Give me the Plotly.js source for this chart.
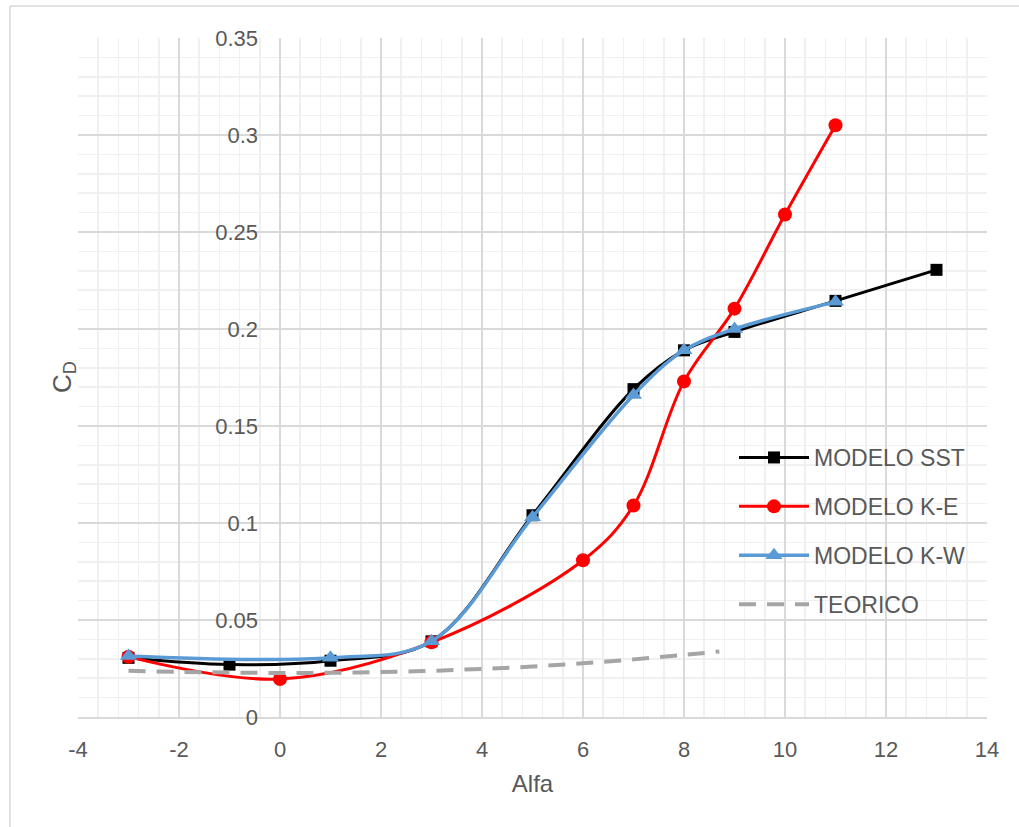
<!DOCTYPE html>
<html>
<head>
<meta charset="utf-8">
<script src="https://cdn.plot.ly/plotly-3.0.1.min.js"></script>
<style>html,body{margin:0;padding:0;background:#fff;}#chart{width:1019px;height:827px;}</style>
</head>
<body>
<div id="chart"></div>
<script>
// Data
const sstX = [-3, -1, 1, 3, 5, 7, 8, 9, 11, 13];
const sstY = [0.0305, 0.027, 0.029, 0.039, 0.104, 0.169, 0.189, 0.1985, 0.2145, 0.2305];

const keX = [-3, 0, 3, 6, 7, 8, 9, 10, 11];
const keY = [0.031, 0.0196, 0.0385, 0.0808, 0.109, 0.173, 0.2105, 0.259, 0.305];

const kwX = [-3, 1, 3, 5, 7, 8, 9, 11];
const kwY = [0.0315, 0.0305, 0.039, 0.103, 0.166, 0.189, 0.200, 0.214];

const teoX = [-3, -2, -1, 0, 1, 2, 3, 4, 5, 6, 7, 8, 8.7];
const teoY = [0.0238, 0.0233, 0.0229, 0.0227, 0.0228, 0.0232, 0.0238, 0.0248, 0.026, 0.0277, 0.0297, 0.032, 0.0338];

const seriesNames = ["MODELO SST", "MODELO K-E", "MODELO K-W", "TEORICO"];
const xTickVals = [-4, -2, 0, 2, 4, 6, 8, 10, 12, 14];
const xTickText = ["-4", "-2", "0", "2", "4", "6", "8", "10", "12", "14"];
const yTickVals = [0, 0.05, 0.1, 0.15, 0.2, 0.25, 0.3, 0.35];
const yTickText = ["0", "0.05", "0.1", "0.15", "0.2", "0.25", "0.3", "0.35"];
const xTitle = "Alfa";
const yTitle = "C<sub>D</sub>";

// minor grid positions (5 per major interval), skipping the major ones
const xMinor = [];
for (let i = 0; i <= 45; i++) { if (i % 5 !== 0) xMinor.push(-4 + i * 0.4); }
const yMinor = [];
for (let i = 0; i <= 35; i++) { if (i % 5 !== 0) yMinor.push(i * 0.01); }

const L = 78, R = 987, T = 38, B = 717;
const pw = R - L, ph = B - T;
const px = v => (v - L) / pw;
const py = v => (B - v) / ph;

const traces = [
  {x: sstX, y: sstY, name: seriesNames[0], mode: "lines+markers", legendgroup: "a",
   line: {color: "#000000", width: 3, shape: "spline", smoothing: 1},
   marker: {symbol: "square", size: 12, color: "#000000"}},
  {x: keX, y: keY, name: seriesNames[1], mode: "lines+markers", legendgroup: "b",
   line: {color: "#ff0000", width: 3, shape: "spline", smoothing: 1},
   marker: {symbol: "circle", size: 14, color: "#ff0000"}},
  {x: kwX, y: kwY, name: seriesNames[2], mode: "lines+markers", legendgroup: "c",
   line: {color: "#5b9bd5", width: 3.5, shape: "spline", smoothing: 1},
   marker: {symbol: "triangle-up", size: 15, color: "#5b9bd5"}},
  {x: teoX, y: teoY, name: seriesNames[3], mode: "lines", legendgroup: "d",
   line: {color: "#a5a5a5", width: 4, dash: "17px,11px", shape: "spline"}}
];

const layout = {
  width: 1019, height: 827,
  margin: {l: L, r: 1019 - R, t: T, b: 827 - B},
  paper_bgcolor: "#ffffff", plot_bgcolor: "#ffffff",
  font: {family: "Liberation Sans, Arial, sans-serif", color: "#595959", size: 22},
  showlegend: true,
  legend: {x: px(734), y: py(436), xanchor: "left", yanchor: "top",
           font: {size: 23, color: "#595959"}, bgcolor: "rgba(255,255,255,0)",
           tracegroupgap: 16, traceorder: "grouped", itemwidth: 70},
  xaxis: {
    range: [-4, 14], tickmode: "array", tickvals: xTickVals, ticktext: xTickText,
    showgrid: true, gridcolor: "#d9d9d9", gridwidth: 2,
    zeroline: false, showline: true, linecolor: "#d9d9d9", linewidth: 2,
    ticks: "", ticklabelstandoff: 12, tickfont: {size: 22, color: "#595959"},
    minor: {tickmode: "array", tickvals: xMinor, showgrid: true, gridcolor: "#f0f0f0", gridwidth: 1.5},
    title: {text: xTitle, font: {size: 24, color: "#595959"}, standoff: 14}
  },
  yaxis: {
    range: [0, 0.35], tickmode: "array", tickvals: yTickVals, ticktext: yTickText,
    showgrid: true, gridcolor: "#d9d9d9", gridwidth: 2,
    zeroline: false, showline: false, ticks: "",
    anchor: "free", position: 4 / 18, ticklabelstandoff: 22,
    tickfont: {size: 22, color: "#595959"},
    minor: {tickmode: "array", tickvals: yMinor, showgrid: true, gridcolor: "#f0f0f0", gridwidth: 1.5}
  },
  annotations: [
    {text: yTitle, xref: "paper", yref: "paper", x: px(63), y: py(377),
     showarrow: false, textangle: -90, font: {size: 26, color: "#595959"},
     xanchor: "center", yanchor: "middle"}
  ],
  shapes: [
    {type: "line", xref: "paper", yref: "paper", x0: px(10), x1: px(10), y0: py(6), y1: py(830),
     line: {color: "#d9d9d9", width: 1.5}},
    {type: "line", xref: "paper", yref: "paper", x0: px(10), x1: px(1022), y0: py(6), y1: py(6),
     line: {color: "#d9d9d9", width: 1.5}}
  ]
};

Plotly.newPlot("chart", traces, layout, {displayModeBar: false, staticPlot: true});
</script>
</body>
</html>
